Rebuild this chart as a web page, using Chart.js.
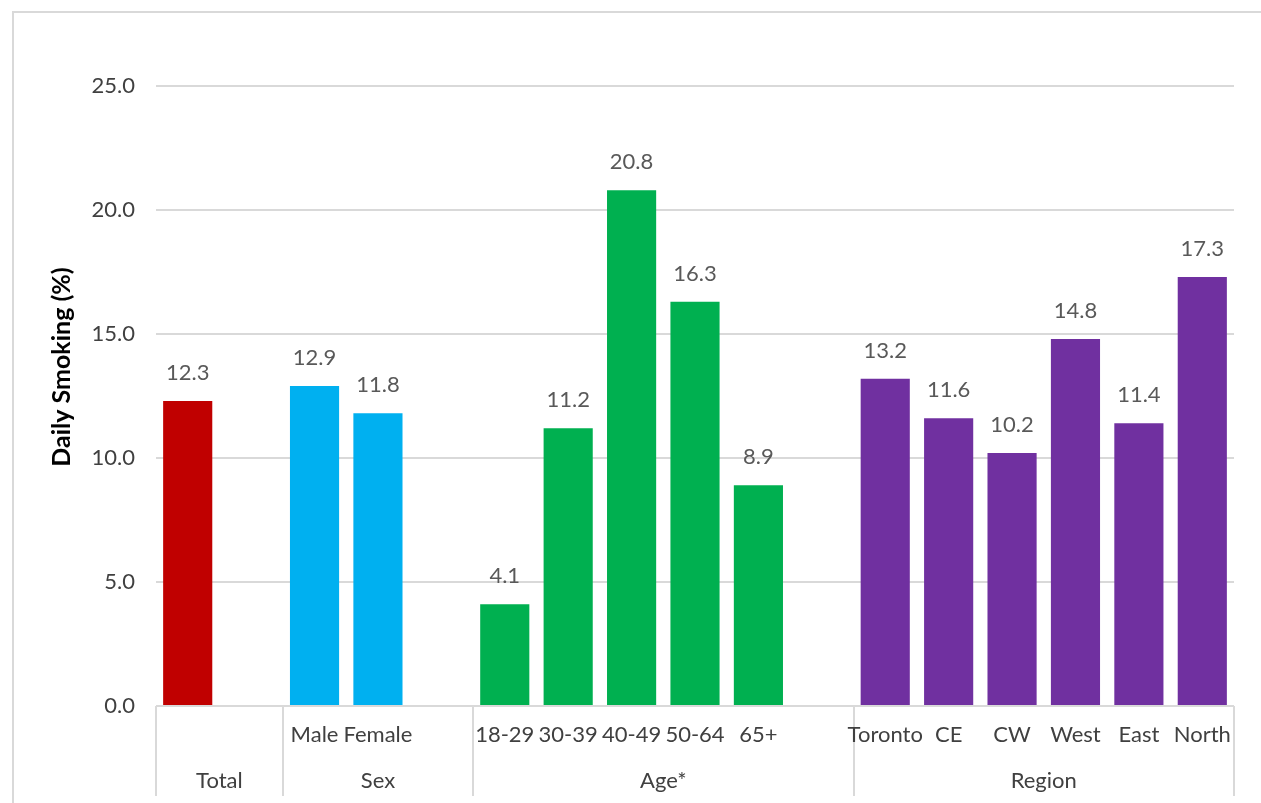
<!DOCTYPE html>
<html>
<head>
<meta charset="utf-8">
<script src="https://cdn.jsdelivr.net/npm/chart.js@4"></script>
<style>
  html, body { margin: 0; padding: 0; background: #fff; }
  #wrap { width: 1261px; height: 803px; position: relative; }
</style>
</head>
<body>
<div id="wrap"><canvas id="chart"></canvas></div>
<script>
// categories (blank slots separate the groups, like the Excel original)
const categories = ['', '', 'Male', 'Female', '', '18-29', '30-39', '40-49', '50-64', '65+', '',
    'Toronto', 'CE', 'CW', 'West', 'East', 'North'];
const values = [12.3, null, 12.9, 11.8, null, 4.1, 11.2, 20.8, 16.3, 8.9, null,
    13.2, 11.6, 10.2, 14.8, 11.4, 17.3];
const groupNames = ['Total', 'Sex', 'Age*', 'Region'];
const groupSizes = [2, 3, 6, 6];
const groupColors = ['#C00000', '#00B0F0', '#00B050', '#7030A0'];
const yTicks = [0, 5, 10, 15, 20, 25];
const yTitle = 'Daily Smoking (%)';

const FONT = 'Lato, "Open Sans", sans-serif';
const AXIS_TXT = '#404040';
const VAL_TXT = '#595959';
const LINE = '#d9d9d9';

// colour per bar from its group
const barColors = [];
groupSizes.forEach((n, g) => { for (let i = 0; i < n; i++) barColors.push(groupColors[g]); });

const tablePlugin = {
    id: 'table',
    beforeDraw(chart) {
        const ctx = chart.ctx;
        ctx.save();
        ctx.fillStyle = '#fff';
        ctx.fillRect(0, 0, chart.width, chart.height);
        ctx.strokeStyle = LINE;
        ctx.lineWidth = 2;
        ctx.strokeRect(13, 12, chart.width + 20, chart.height + 20);
        ctx.restore();
    },
    afterDraw(chart) {
        const ctx = chart.ctx;
        const x = chart.scales.x;
        const area = chart.chartArea;
        const slot = x.width / categories.length;
        ctx.save();

        // axis line + group separators
        ctx.strokeStyle = LINE;
        ctx.lineWidth = 2;
        ctx.beginPath();
        ctx.moveTo(area.left, area.bottom);
        ctx.lineTo(area.right, area.bottom);
        let idx = 0;
        const edges = [0];
        groupSizes.forEach(n => { idx += n; edges.push(idx); });
        edges.forEach(e => {
            const px = Math.round(x.getPixelForValue(e) - slot / 2);
            ctx.moveTo(px, area.bottom);
            ctx.lineTo(px, 796);
        });
        ctx.stroke();

        // category labels
        ctx.fillStyle = AXIS_TXT;
        ctx.font = '22px ' + FONT;
        ctx.textAlign = 'center';
        ctx.textBaseline = 'alphabetic';
        categories.forEach((c, i) => {
            if (c) ctx.fillText(c, x.getPixelForValue(i), 742);
        });

        // group labels
        groupNames.forEach((g, k) => {
            const a = x.getPixelForValue(edges[k]) - slot / 2;
            const b = x.getPixelForValue(edges[k + 1]) - slot / 2;
            ctx.fillText(g, (a + b) / 2, 788);
        });

        // value labels
        ctx.fillStyle = VAL_TXT;
        const meta = chart.getDatasetMeta(0);
        meta.data.forEach((bar, i) => {
            if (values[i] == null) return;
            ctx.fillText(values[i].toFixed(1), bar.x, bar.y - 21);
        });

        // y axis title
        ctx.translate(62, 367);
        ctx.rotate(-Math.PI / 2);
        ctx.font = 'bold 25px ' + FONT;
        ctx.fillStyle = '#000';
        ctx.textBaseline = 'middle';
        ctx.fillText(yTitle, 0, 0);
        ctx.restore();
    }
};

new Chart(document.getElementById('chart'), {
    type: 'bar',
    data: {
        labels: categories,
        datasets: [{
            data: values,
            backgroundColor: barColors,
            barPercentage: 0.775,
            categoryPercentage: 1
        }]
    },
    options: {
        responsive: true,
        maintainAspectRatio: false,
        animation: false,
        layout: { padding: { top: 86, right: 27, bottom: 0, left: 0 } },
        plugins: { legend: { display: false }, tooltip: { enabled: false } },
        scales: {
            x: {
                ticks: { display: false },
                grid: { display: false },
                border: { display: false },
                afterFit: s => { s.height = 97; }
            },
            y: {
                min: yTicks[0],
                max: yTicks[yTicks.length - 1],
                afterBuildTicks: s => { s.ticks = yTicks.map(v => ({ value: v })); },
                ticks: {
                    padding: 21,
                    color: AXIS_TXT,
                    font: { family: FONT, size: 22 },
                    callback: v => v.toFixed(1)
                },
                grid: { color: LINE, lineWidth: 2, drawTicks: false },
                border: { display: false },
                afterFit: s => { s.width = 156; }
            }
        }
    },
    plugins: [tablePlugin]
});
</script>
</body>
</html>
